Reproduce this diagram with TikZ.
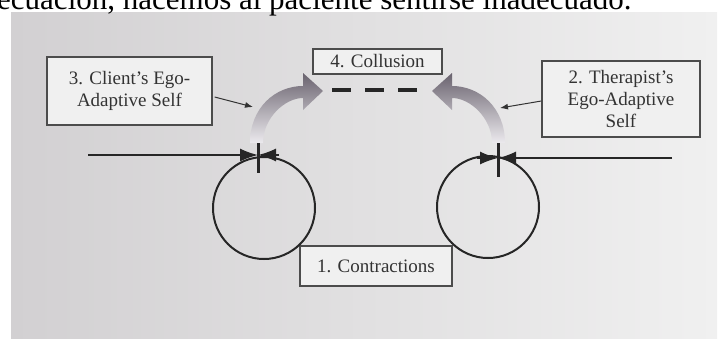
\documentclass[tikz,border=0pt]{standalone}
\usepackage{fontspec}
\setmainfont{Liberation Serif}
\usetikzlibrary{positioning, arrows.meta, calc}

\definecolor{paperdark}{RGB}{210,208,210}
\definecolor{paperlight}{RGB}{240,240,240}
\definecolor{bendtop}{RGB}{105,98,110}
\definecolor{bendmid}{RGB}{180,168,192}
\definecolor{bendlow}{RGB}{236,234,238}

\begin{document}
\begin{tikzpicture}[
		x=1pt, y=-1pt,
		box/.style={
			rectangle,
			draw=black!70,
			line width=1.3pt,
			fill=white!94!black,
			align=center,
			text=black!80,
			inner sep=2pt,
			font=\fontsize{19}{22}\selectfont
		},
		ring/.style={
			circle,
			draw=black!85,
			line width=2pt,
			minimum size=102pt,
			inner sep=0pt
		},
		push/.style={
			-{Latex[length=18pt, width=13pt]},
			line width=1.6pt,
			black!85
		},
		pointer/.style={
			-{Latex[length=8pt, width=6pt]},
			line width=1pt,
			black!80
		},
		tickmark/.style={
			line width=3pt,
			black!85
		},
		collude/.style={
			line width=4pt,
			dash pattern=on 19pt off 14pt,
			black!85
		},
		bendfill/.style={
			top color=bendtop,
			middle color=bendmid,
			bottom color=bendlow
		}
		]
		
		\clip (0,0) rectangle (725,338);
		\shade[left color=paperdark, right color=paperlight] (11,12) rectangle (717,338);
		
		\node[anchor=base west, inner sep=0pt, font=\fontsize{31}{34}\selectfont] (line) at (-3,9) {ecuación, hacemos al paciente sentirse inadecuado.};
		
		\node[box, minimum width=129pt, minimum height=25pt] (collusion) at (377.5,61.5) {4. Collusion};
		
		\node[box, minimum width=165pt, minimum height=68pt] (client) at (129.5,91) {
			3. Client’s Ego-\\
			Adaptive Self
		};
		
		\node[box, minimum width=158pt, minimum height=76pt] (therapist) at (621,99) {
			2. Therapist’s\\
			Ego-Adaptive\\
			Self
		};
		
		\node[box, minimum width=152pt, minimum height=40pt] (contract) at (376,266) {1. Contractions};
		
		\node[ring] (cl) at (264,208) {};
		\node[ring] (cr) at (488,207) {};
		
		% curved arrows
		\shade[bendfill] (263,143) -- (250,143) .. controls (250,108) and (275,86) .. (303,86)
			-- (303,73) -- (323,91) -- (303,110) -- (303,98)
			.. controls (285,98) and (263,118) .. (263,143) -- cycle;
		\shade[bendfill] (492,143) -- (505,143) .. controls (505,108) and (480,86) .. (452,86)
			-- (452,73) -- (432,91) -- (452,110) -- (452,98)
			.. controls (470,98) and (492,118) .. (492,143) -- cycle;
		
		\coordinate (dl) at (332,90);
		\coordinate (dr) at (420,90);
		\draw[collude] (dl) -- (dr);
		
		% contraction marks
		\coordinate (tl) at (258,155);
		\coordinate (tlt) at (258,143);
		\coordinate (tlb) at (258,173);
		\coordinate (ll) at (88,155);
		\coordinate (lx) at (279,155);
		
		\coordinate (tr) at (498,158);
		\coordinate (trt) at (498,143);
		\coordinate (trb) at (498,177);
		\coordinate (rr) at (672,158);
		\coordinate (rx) at (477,158);
		
		\draw[push] (ll) -- (tl);
		\draw[push] (lx) -- (tl);
		\draw[tickmark] (tlt) -- (tlb);
		
		\draw[push] (rr) -- (tr);
		\draw[push] (rx) -- (tr);
		\draw[tickmark] (trt) -- (trb);
		
		\coordinate (pl) at (253,107);
		\coordinate (pr) at (500,108);
		\draw[pointer] ($(client.east)+(2,6)$) -- (pl);
		\draw[pointer] ($(therapist.west)+(0,2)$) -- (pr);
		
	\end{tikzpicture}
\end{document}
